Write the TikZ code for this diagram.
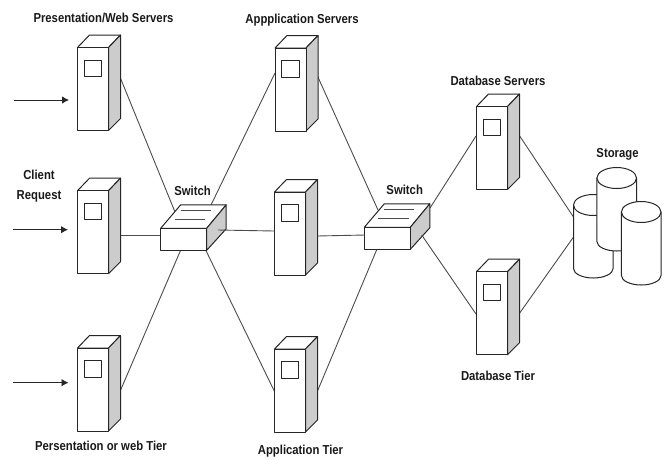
\documentclass[tikz,border=0pt]{standalone}
\usepackage{fontspec}
\setmainfont[FakeStretch=0.87]{Liberation Sans}
\usetikzlibrary{arrows.meta}
\definecolor{sidegray}{gray}{0.8}
\definecolor{linegray}{gray}{0.3}
\tikzset{
  outline/.style={draw=black!85,line width=1pt,line join=round},
  wire/.style={draw=linegray,line width=0.9pt},
  inarrow/.style={draw=black!85,line width=0.9pt,-{Latex[length=7pt,width=7.5pt]}},
  lbl/.style={font=\bfseries\fontsize{13}{20}\selectfont,inner sep=0pt,align=center,text=black!90},
  pics/servertower/.style={code={
    \path[outline,fill=white] (0,0) -- (12,-12.5) -- (43,-12.5) -- (31,0) -- cycle;
    \path[outline,fill=sidegray] (31,0) -- (43,-12.5) -- (43,71) -- (31,83) -- cycle;
    \path[outline,fill=white] (0,0) rectangle (31,83);
    \path[outline,fill=white] (6.5,12.5) rectangle (24,29);
  }},
  pics/switchbox/.style={code={
    \path[outline,fill=white] (0,0) -- (20,-23.5) -- (65.5,-23.5) -- (46,0) -- cycle;
    \path[outline,fill=sidegray] (46,0) -- (65.5,-23.5) -- (65.5,0.5) -- (46,22) -- cycle;
    \path[outline,fill=white] (0,0) rectangle (46,22);
    \draw[wire] (20,-18) -- (50,-18);
    \draw[wire] (14,-8.5) -- (44.5,-8.5);
  }},
  pics/drum/.style={code={
    \path[outline,fill=white] (-19.8,0) -- (-19.8,63.5) arc[start angle=180,end angle=0,x radius=19.8,y radius=9.5] -- (19.8,0) -- cycle;
    \path[outline,fill=white] (0,0) ellipse[x radius=19.8,y radius=10.5];
  }}
}
\begin{document}
\begin{tikzpicture}[x=1pt,y=-1pt]
\useasboundingbox (0,0) rectangle (668,459);
\coordinate (pw1e) at (120,77);
\coordinate (pw2e) at (120,235);
\coordinate (pw3e) at (120,391.5);
\coordinate (ap1w) at (275,73);
\coordinate (ap1e) at (317,75);
\coordinate (ap2w) at (274.5,231);
\coordinate (ap2e) at (317,236);
\coordinate (ap3wa) at (274.5,391.5);
\coordinate (ap3e) at (317.5,391);
\coordinate (db1w) at (476,136);
\coordinate (db1e) at (519,135);
\coordinate (db2w) at (476,314);
\coordinate (db2e) at (519,314);
\coordinate (sw1n) at (175,212);
\coordinate (sw1m) at (211,205);
\coordinate (sw1w) at (161,235);
\coordinate (sw1e) at (218,230);
\coordinate (sw1s) at (180.7,250);
\coordinate (sw1r) at (205.7,250);
\coordinate (sw2n) at (378,210);
\coordinate (sw2m) at (430,208);
\coordinate (sw2w) at (365,235);
\coordinate (sw2e) at (421.7,235);
\coordinate (sw2s) at (377,249);
\coordinate (stA) at (573.5,217);
\coordinate (stB) at (573.5,237);
\coordinate (i1) at (14,100);
\coordinate (i1t) at (69,100);
\coordinate (i2) at (13,229.7);
\coordinate (i2t) at (68,229.7);
\coordinate (i3) at (13,382.7);
\coordinate (i3t) at (68.5,382.7);
\draw[wire] (pw1e) -- (sw1n);
\draw[wire] (pw2e) -- (sw1w);
\draw[wire] (pw3e) -- (sw1s);
\draw[wire] (sw1m) -- (ap1w);
\draw[wire] (sw1r) -- (ap3wa);
\draw[wire] (ap1e) -- (sw2n);
\draw[wire] (ap2e) -- (sw2w);
\draw[wire] (ap3e) -- (sw2s);
\draw[wire] (sw2m) -- (db1w);
\draw[wire] (db1e) -- (stA);
\draw[wire] (db2e) -- (stB);
\pic (s1) at (77.5,47.5) {servertower};
\pic (s2) at (77.5,190.7) {servertower};
\pic (s3) at (77.5,348) {servertower};
\pic (a1) at (275,48) {servertower};
\pic (a2) at (274.5,192) {servertower};
\pic (a3) at (274.5,349) {servertower};
\pic (d1) at (476.5,106.5) {servertower};
\pic (d2) at (476.5,271.7) {servertower};
\pic (sw1) at (160.7,228.3) {switchbox};
\pic (sw2) at (364.3,227.3) {switchbox};
\draw[wire] (sw1e) -- (ap2w);
\draw[wire] (sw2e) -- (db2w);
\pic (c1) at (593.3,205) {drum};
\pic (c2) at (616.7,178) {drum};
\pic (c3) at (641.2,212) {drum};
\draw[inarrow] (i1) -- (i1t);
\draw[inarrow] (i2) -- (i2t);
\draw[inarrow] (i3) -- (i3t);
\node[lbl] (t1) at (103.5,18) {Presentation/Web Servers};
\node[lbl] (t2) at (302,20) {Appplication Servers};
\node[lbl] (t3) at (498,81) {Database Servers};
\node[lbl] (t4) at (617.5,154) {Storage};
\node[lbl] (t5) at (192.5,191) {Switch};
\node[lbl] (t6) at (404.7,190) {Switch};
\node[lbl] (t7) at (39,185.7) {Client\\Request};
\node[lbl] (t8) at (498,376) {Database Tier};
\node[lbl] (t9) at (101,446) {Persentation or web Tier};
\node[lbl] (t10) at (300.5,451) {Application Tier};
\end{tikzpicture}
\end{document}
